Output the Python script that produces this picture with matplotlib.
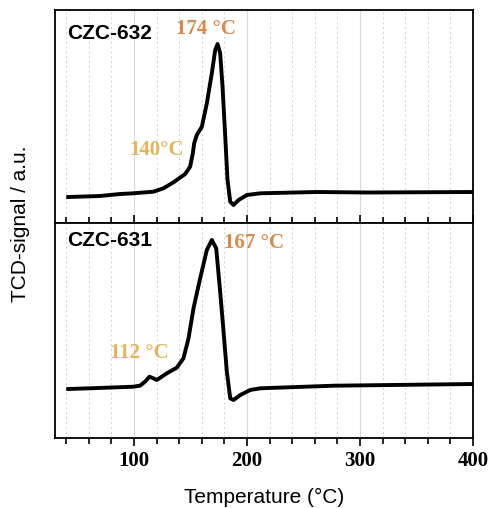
import matplotlib
matplotlib.use("Agg")
import matplotlib.pyplot as plt
from matplotlib.ticker import MultipleLocator

# CZC-632 (top)
t632 = [41.7, 69.8, 87.6, 99.4, 117.1, 126.0, 134.9, 145.2, 149.6, 152.0, 153.2, 155.5,
        160.0, 164.4, 168.8, 171.8, 173.9, 176.2, 178.3, 180.7, 182.7, 185.1, 188.0,
        192.5, 199.9, 211.7, 262.1, 306.5, 400.5]
s632 = [26.0, 27.0, 29.0, 29.7, 31.3, 34.7, 40.7, 49.0, 56.3, 69.7, 79.7, 88.0,
        96.3, 119.7, 149.7, 173.0, 179.0, 169.7, 136.3, 86.3, 43.0, 21.3, 18.0,
        23.0, 28.0, 29.7, 31.0, 30.5, 31.0]

# CZC-631 (bottom)
t631 = [41.7, 61.0, 99.4, 105.3, 109.7, 113.6, 117.1, 120.1, 129.0, 137.8, 143.7, 148.2,
        152.6, 158.5, 164.4, 168.8, 172.7, 176.2, 179.2, 182.1, 185.1, 188.0, 194.0,
        202.8, 211.7, 276.9, 400.5]
s631 = [49.0, 49.7, 51.3, 52.3, 56.3, 61.3, 59.7, 58.0, 64.7, 70.3, 79.7, 99.7,
        129.7, 159.7, 188.0, 198.0, 189.7, 146.3, 106.3, 66.3, 39.7, 38.0, 43.0,
        48.0, 49.7, 52.3, 54.0]

fig = plt.figure(figsize=(4.9, 5.08), dpi=100)
L, R = 55/490, 473/490
ax1 = fig.add_axes([L, 1-223/508, R-L, 213/508])
ax2 = fig.add_axes([L, 1-438/508, R-L, 215/508], sharex=ax1)

serif = "Liberation Serif"
sans = "Liberation Sans"
orange = "#d9894a"
gold = "#e2b65a"

for ax, t, s, ylim in [(ax1, t632, s632, (0, 213)), (ax2, t631, s631, (0, 215))]:
    ax.plot(t, s, color="black", lw=2.8, solid_joinstyle="round")
    ax.set_xlim(30, 400)
    ax.set_ylim(*ylim)
    ax.set_yticks([])
    ax.xaxis.set_major_locator(MultipleLocator(100))
    ax.xaxis.set_minor_locator(MultipleLocator(20))
    ax.grid(which="major", axis="x", color="#d8d8d8", lw=0.8)
    ax.grid(which="minor", axis="x", color="#d0d0d0", lw=0.7, ls=(0, (2, 3)))
    for sp in ax.spines.values():
        sp.set_linewidth(1.3)

ax1.tick_params(axis="x", which="both", direction="in", labelbottom=False, width=1.2)
ax1.tick_params(axis="x", which="major", length=6)
ax1.tick_params(axis="x", which="minor", length=4)
ax2.tick_params(axis="x", which="both", direction="out", width=1.2)
ax2.tick_params(axis="x", which="major", length=6)
ax2.tick_params(axis="x", which="minor", length=4)
for lab in ax2.get_xticklabels():
    lab.set_fontfamily(serif)
    lab.set_fontweight("bold")
    lab.set_fontsize(15)

ax1.text(0.03, 0.89, "CZC-632", transform=ax1.transAxes, fontfamily=sans,
         fontweight="bold", fontsize=15, va="center", ha="left")
ax2.text(0.03, 0.92, "CZC-631", transform=ax2.transAxes, fontfamily=sans,
         fontweight="bold", fontsize=15, va="center", ha="left")

ax1.text(164, 194, "174 °C", color=orange, fontfamily=serif, fontweight="bold",
         fontsize=15, ha="center", va="center")
ax1.text(120, 73, "140°C", color=gold, fontfamily=serif, fontweight="bold",
         fontsize=15, ha="center", va="center")
ax2.text(206, 195, "167 °C", color=orange, fontfamily=serif, fontweight="bold",
         fontsize=15, ha="center", va="center")
ax2.text(104.5, 85, "112 °C", color=gold, fontfamily=serif, fontweight="bold",
         fontsize=15, ha="center", va="center")

ax2.set_xlabel("Temperature (°C)", fontfamily=sans, fontsize=15, labelpad=12)
fig.text(0.042, (1-438/508 + 1-10/508)/2, "TCD-signal / a.u.", rotation=90,
         fontfamily=sans, fontsize=15, ha="center", va="center")

fig.savefig("out.png", dpi=100)
